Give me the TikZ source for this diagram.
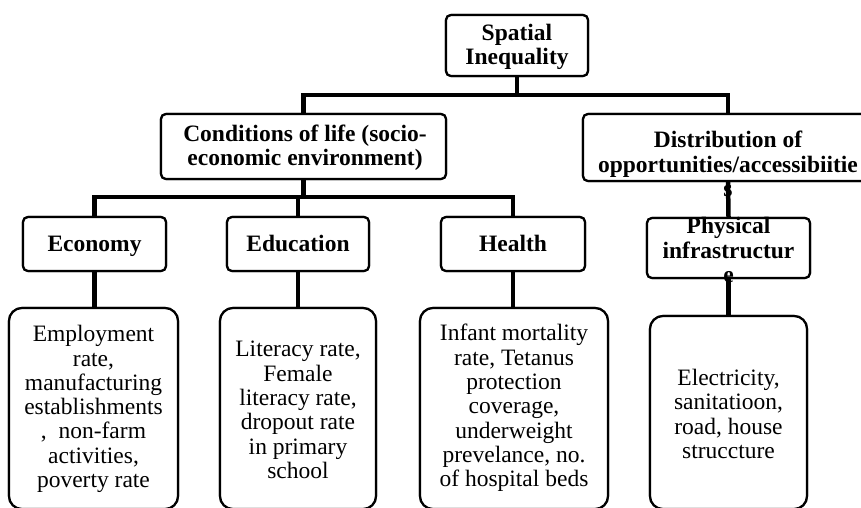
\documentclass[tikz,border=0pt]{standalone}
\usepackage{fontspec}
\setmainfont{Liberation Serif}
\begin{document}
\begin{tikzpicture}[x=1pt,y=-1pt,
  conn/.style={line width=4.5pt},
  hbox/.style={draw, line width=2.2pt, fill=white, rounded corners=5pt, inner sep=0pt},
  dbox/.style={draw, line width=2.2pt, fill=white, rounded corners=13pt, inner sep=0pt},
  htext/.style={align=center, inner sep=0pt, font=\fontsize{23.5}{24.2}\selectfont\bfseries},
  dtext/.style={align=center, inner sep=0pt, font=\fontsize{23.5}{24.3}\selectfont}]
\useasboundingbox (0,0) rectangle (861,507);
% boxes (shapes)
\node[hbox, minimum width=142pt, minimum height=61pt] (spatial) at (517,45.5) {};
\node[hbox, minimum width=285pt, minimum height=65pt] (cond) at (303.5,146.5) {};
\node[hbox, minimum width=290pt, minimum height=67pt] (dist) at (728,147.5) {};
\node[hbox, minimum width=143pt, minimum height=54pt] (econ) at (94.5,244) {};
\node[hbox, minimum width=142pt, minimum height=54pt] (edu) at (298,244) {};
\node[hbox, minimum width=144pt, minimum height=54pt] (health) at (513,244) {};
\node[hbox, minimum width=163pt, minimum height=60pt] (phys) at (728.5,248) {};
\node[dbox, minimum width=169pt, minimum height=201pt] (econd) at (93.5,408.5) {};
\node[dbox, minimum width=156pt, minimum height=201pt] (edud) at (298,408.5) {};
\node[dbox, minimum width=188pt, minimum height=201pt] (healthd) at (514,408.5) {};
\node[dbox, minimum width=157pt, minimum height=193pt] (physd) at (728.5,412.5) {};
% connectors
\coordinate (b1) at (517,95);
\coordinate (b2) at (303.5,197);
\draw[conn] (spatial.south) -- (b1);
\draw[conn] (cond.north) |- (b1) -| (dist.north);
\draw[conn] (cond.south) -- (b2);
\draw[conn] (econ.north) |- (b2) -| (health.north);
\draw[conn] (edu.north) -- (edu.north |- b2);
\draw[conn] (dist.south) -- (phys.north);
\draw[conn] (econ.south) -- (econ.south |- econd.north);
\draw[conn] (edu.south) -- (edu.south |- edud.north);
\draw[conn] (health.south) -- (health.south |- healthd.north);
\draw[conn] (phys.south) -- (phys.south |- physd.north);
% redraw boxes on top of connectors
\node[hbox, minimum width=142pt, minimum height=61pt] at (spatial) {};
\node[hbox, minimum width=285pt, minimum height=65pt] at (cond) {};
\node[hbox, minimum width=290pt, minimum height=67pt] at (dist) {};
\node[hbox, minimum width=143pt, minimum height=54pt] at (econ) {};
\node[hbox, minimum width=142pt, minimum height=54pt] at (edu) {};
\node[hbox, minimum width=144pt, minimum height=54pt] at (health) {};
\node[hbox, minimum width=163pt, minimum height=60pt] at (phys) {};
\node[dbox, minimum width=169pt, minimum height=201pt] at (econd) {};
\node[dbox, minimum width=156pt, minimum height=201pt] at (edud) {};
\node[dbox, minimum width=188pt, minimum height=201pt] at (healthd) {};
\node[dbox, minimum width=157pt, minimum height=193pt] at (physd) {};
% texts
\node[htext] (tspatial) at (517,47) {Spatial\\Inequality};
\node[htext] (tcond) at (305,148) {Conditions of life (socio-\\economic environment)};
\node[htext] (tdist) at (728,164) {Distribution of\\opportunities/accessibiitie\\s};
\node[htext, anchor=base] (tecon) at (94.5,251) {Economy};
\node[htext, anchor=base] (tedu) at (298,251) {Education};
\node[htext, anchor=base] (thealth) at (513,251) {Health};
\node[htext] (tphys) at (728.5,250) {Physical\\infrastructur\\e};
\node[dtext] (tecond) at (93.5,409) {Employment\\rate,\\manufacturing\\establishments\\, \ non-farm\\activities,\\poverty rate};
\node[dtext] (tedud) at (298,410) {Literacy rate,\\Female\\literacy rate,\\dropout rate\\in primary\\school};
\node[dtext] (thealthd) at (514,408) {Infant mortality\\rate, Tetanus\\protection\\coverage,\\underweight\\prevelance, no.\\of hospital beds};
\node[dtext] (tphysd) at (728.5,414) {Electricity,\\sanitatioon,\\road, house\\struccture};
\end{tikzpicture}
\end{document}
